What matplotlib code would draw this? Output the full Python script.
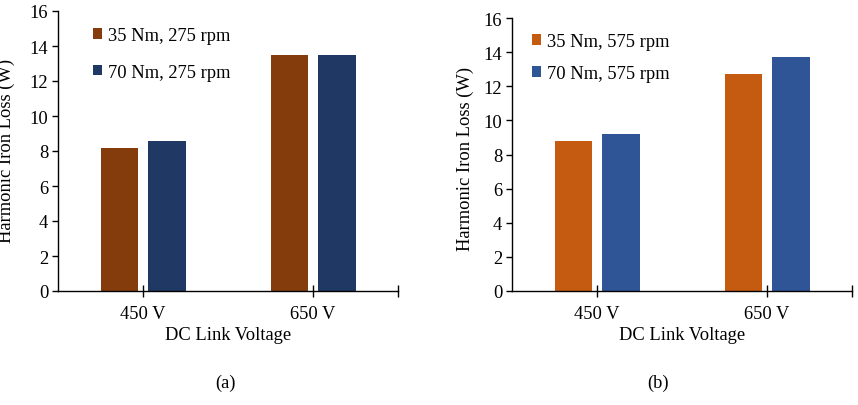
import matplotlib
matplotlib.use("Agg")
import matplotlib.pyplot as plt
import numpy as np

plt.rcParams['font.family'] = ['Liberation Serif', 'DejaVu Serif']

categories = ['450 V', '650 V']
series_a = ['35 Nm, 275 rpm', '70 Nm, 275 rpm']
values_a_35 = [8.2, 13.5]
values_a_70 = [8.55, 13.5]
series_b = ['35 Nm, 575 rpm', '70 Nm, 575 rpm']
values_b_35 = [8.8, 12.7]
values_b_70 = [9.2, 13.7]
yticks = [0, 2, 4, 6, 8, 10, 12, 14, 16]

colors_a = ['#843C0C', '#203864']
colors_b = ['#C55A11', '#2F5597']

W, H = 858, 406
fig = plt.figure(figsize=(W / 100, H / 100), dpi=100)

FS = 13.3


def panel(rect, vals1, vals2, names, cols, legend_xy, lspace, ylabel_x, ylabel_y, caption, cap_x):
    ax = fig.add_axes(rect)
    x = np.arange(len(categories))
    w = 0.22
    ax.bar(x - 0.138, vals1, w, color=cols[0], label=names[0])
    ax.bar(x + 0.142, vals2, w, color=cols[1], label=names[1])
    ax.set_xlim(-0.5, 1.5)
    ax.set_ylim(0, 16)
    ax.set_yticks(yticks)
    ax.set_xticks([0, 1, 1.5])
    ax.set_xticklabels(categories + [''])
    for s in ['top', 'right']:
        ax.spines[s].set_visible(False)
    for s in ['left', 'bottom']:
        ax.spines[s].set_linewidth(1.0)
        ax.spines[s].set_color('black')
    ax.tick_params(axis='y', direction='out', length=4, width=1, labelsize=FS, pad=3)
    ax.tick_params(axis='x', direction='inout', length=8, width=1, labelsize=FS, pad=6)
    ax.set_xlabel('DC Link Voltage', fontsize=FS, labelpad=3)
    ax.legend(loc='upper left', bbox_to_anchor=legend_xy, frameon=False,
              fontsize=FS, handlelength=0.5, handleheight=0.5,
              handletextpad=0.3, labelspacing=lspace, borderpad=0,
              borderaxespad=0)
    fig.text(ylabel_x / W, 1 - ylabel_y / H,
             'Harmonic Iron Loss (W)', rotation=90, ha='center', va='center', fontsize=FS)
    fig.text(cap_x / W, 1 - 383 / H, caption, ha='center', va='center', fontsize=FS)
    return ax


panel([58 / W, 114 / H, 340 / W, 280 / H], values_a_35, values_a_70, series_a, colors_a,
      (0.103, 0.943), 1.07, 6, 151, '(a)', 225)
panel([512 / W, 114 / H, 340 / W, 273 / H], values_b_35, values_b_70, series_b, colors_b,
      (0.059, 0.945), 0.81, 465, 159, '(b)', 658)

fig.savefig('out.png', dpi=100)
